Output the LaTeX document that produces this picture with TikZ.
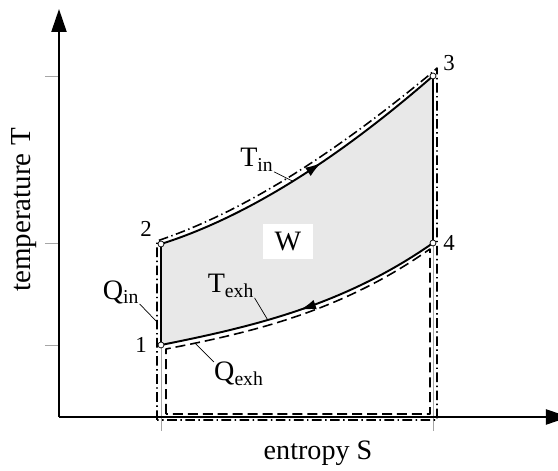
\documentclass[tikz,border=0pt]{standalone}
\usepackage{fontspec}
\setmainfont{Liberation Serif}
\usetikzlibrary{arrows.meta,decorations.markings}

\begin{document}
\begin{tikzpicture}[>={Latex[length=0.32cm,width=0.2cm]},line join=round,
		axis/.style={line width=1.2pt,-{Triangle[length=0.46cm,width=0.3cm]}},
		cycleline/.style={line width=1.1pt},
		sideline/.style={line width=0.7pt},
		guide/.style={gray!70,line width=0.5pt},
		dashdot/.style={line width=0.9pt,dash pattern=on 5.5pt off 2pt on 0.8pt off 2pt},
		dashline/.style={line width=0.9pt,dash pattern=on 5.7pt off 2.8pt},
		lbl/.style={font=\fontsize{16}{19}\selectfont,inner sep=0pt},
		num/.style={font=\fontsize{13}{15}\selectfont,inner sep=0pt},
		leader/.style={line width=0.4pt},
		statept/.style={circle,draw,fill=white,inner sep=0pt,minimum size=3.4pt,line width=0.4pt}]
			\useasboundingbox (-1.18,-1.08) rectangle (9.98,8.34);
			\coordinate (O) at (0,0);
			\coordinate (p1) at (2.04,1.44);
			\coordinate (p2) at (2.04,3.46);
			\coordinate (p3) at (7.48,6.82);
			\coordinate (p4) at (7.48,3.48);
			\fill[black!9] (p2) .. controls (3.84,4.03) and (5.68,5.254) .. (p3) -- (p4) .. controls (5.68,2.22) and (3.84,1.80) .. (p1) -- cycle;
			\draw[guide] (2.04,-0.28) -- (p1);
			\draw[guide] (7.48,-0.28) -- (p4);
			\foreach \y in {1.44,3.48,6.82}
				\draw[guide] (-0.28,\y) -- (0,\y);
			\draw[dashdot] (1.96,-0.06) -- (1.96,3.52) .. controls (3.78,4.13) and (5.62,5.36) .. (7.50,6.92) -- (7.56,6.98) -- (7.56,-0.06) -- cycle;
			\draw[dashline] (2.14,0.06) -- (2.14,1.36) .. controls (3.9,1.70) and (5.66,2.12) .. (7.42,3.36) coordinate[pos=0.11] (qexhpt) -- (7.42,0.06) -- cycle;
			\coordinate (ytop) at (0,8.16);
			\coordinate (xend) at (10.2,0);
			\draw[axis] (O) -- (ytop);
			\draw[axis] (O) -- (xend);
			\draw[sideline] (p1) -- (p2);
			\draw[sideline] (p3) -- (p4);
			\draw[cycleline,postaction={decorate},decoration={markings,mark=at position 0.56 with {\arrow{>}}}]
				(p2) .. controls (3.84,4.03) and (5.68,5.254) .. (p3) coordinate[pos=0.485] (tinpt);
			\draw[cycleline,postaction={decorate},decoration={markings,mark=at position 0.49 with {\arrowreversed{>}}}]
				(p1) .. controls (3.84,1.80) and (5.68,2.22) .. (p4) coordinate[pos=0.393] (texhpt);
			\foreach \p in {p1,p2,p3,p4}
				\node[statept] at (\p) {};
			\node[num] (n1) at (1.64,1.44) {1};
			\node[num] (n2) at (1.74,3.76) {2};
			\node[num] (n3) at (7.8,7.08) {3};
			\node[num] (n4) at (7.8,3.48) {4};
			\node[lbl,fill=white,minimum width=1cm,minimum height=0.7cm] (w) at (4.58,3.50) {W};
			\node[lbl] (tin) at (3.96,5.14) {T\textsubscript{in}};
			\node[lbl] (texh) at (3.44,2.62) {T\textsubscript{exh}};
			\node[lbl] (qin) at (1.24,2.50) {Q\textsubscript{in}};
			\node[lbl] (qexh) at (3.6,0.86) {Q\textsubscript{exh}};
			\coordinate (qinpt) at (1.96,1.90);
			\draw[leader] (tin.south east) -- (tinpt);
			\draw[leader] (texh.south east) -- (texhpt);
			\draw[leader] (qin.south east) -- (qinpt);
			\draw[leader] (qexh.north west) -- (qexhpt);
			\node[lbl,rotate=90,font=\fontsize{16.5}{19}\selectfont] (tlab) at (-0.70,4.14) {temperature T};
			\node[lbl] (slab) at (5.18,-0.72) {entropy S};
		\end{tikzpicture}
\end{document}
